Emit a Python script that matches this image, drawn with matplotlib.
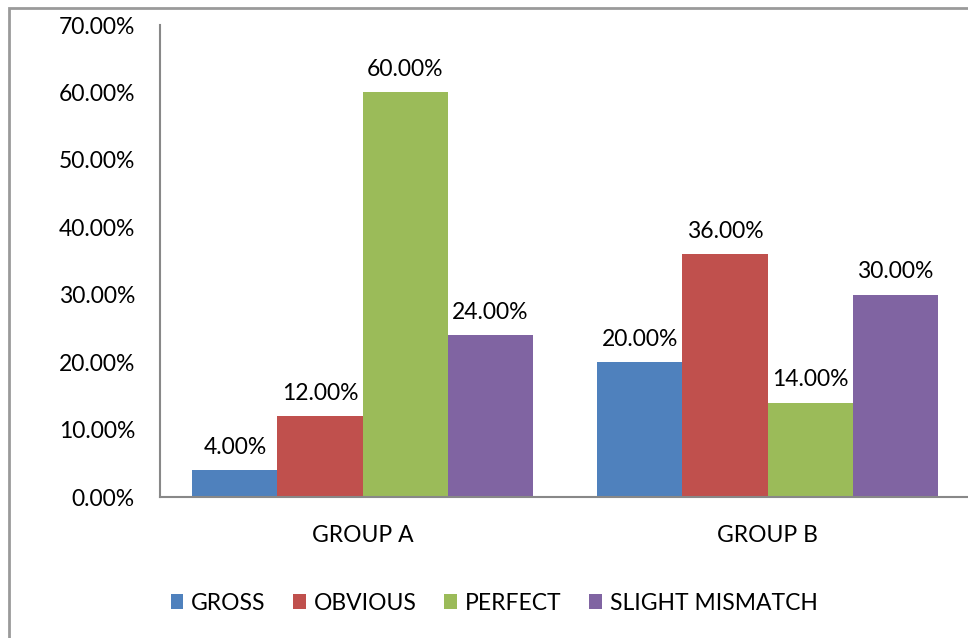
import numpy as np
import matplotlib.pyplot as plt
from matplotlib.patches import Rectangle

groups = ['GROUP A', 'GROUP B']
series = ['GROSS', 'OBVIOUS', 'PERFECT', 'SLIGHT MISMATCH']
gross = [4.0, 20.0]
obvious = [12.0, 36.0]
perfect = [60.0, 14.0]
slight = [24.0, 30.0]
colors = ['#4F81BD', '#C0504D', '#9BBB59', '#8064A2']

plt.rcParams['font.family'] = ['Lato', 'DejaVu Sans']
fs = 16.5

W, H = 968, 638
fig = plt.figure(figsize=(W / 100, H / 100), dpi=100)
ax = fig.add_axes([160 / W, (H - 497) / H, 810 / W, (497 - 25) / H])

# outer chart frame
fig.patches.append(Rectangle((9 / W, -0.05), 1.1, 1 - 8 / H + 0.05,
                             transform=fig.transFigure, fill=False,
                             edgecolor='#9a9a9a', linewidth=2))

x = np.arange(len(groups))
bw = 0.21
values = [gross, obvious, perfect, slight]
for i, (name, vals) in enumerate(zip(series, values)):
    bars = ax.bar(x + (i - 1.5) * bw, vals, bw, color=colors[i], label=name)
    ax.bar_label(bars, labels=[f'{v:.2f}%' for v in vals], padding=9, fontsize=fs)

ax.set_xlim(-0.5, 1.5)
ax.set_ylim(0, 70)
ax.set_yticks(np.arange(0, 71, 10))
ax.set_yticklabels([f'{t:.2f}%' for t in np.arange(0, 71, 10)], fontsize=fs)
ax.set_xticks(x)
ax.set_xticklabels(groups, fontsize=fs)
ax.tick_params(axis='y', length=0, pad=18)
ax.tick_params(axis='x', length=0, pad=20)
for s in ['top', 'right']:
    ax.spines[s].set_visible(False)
for s in ['left', 'bottom']:
    ax.spines[s].set_color('#888888')
    ax.spines[s].set_linewidth(1.5)

fig.legend(loc='center', bbox_to_anchor=(494 / W, 1 - 603 / H), ncol=4,
           frameon=False, fontsize=fs, handlelength=0.55, handleheight=0.65,
           handletextpad=0.35, columnspacing=1.2)

fig.savefig('out.png', dpi=100)
